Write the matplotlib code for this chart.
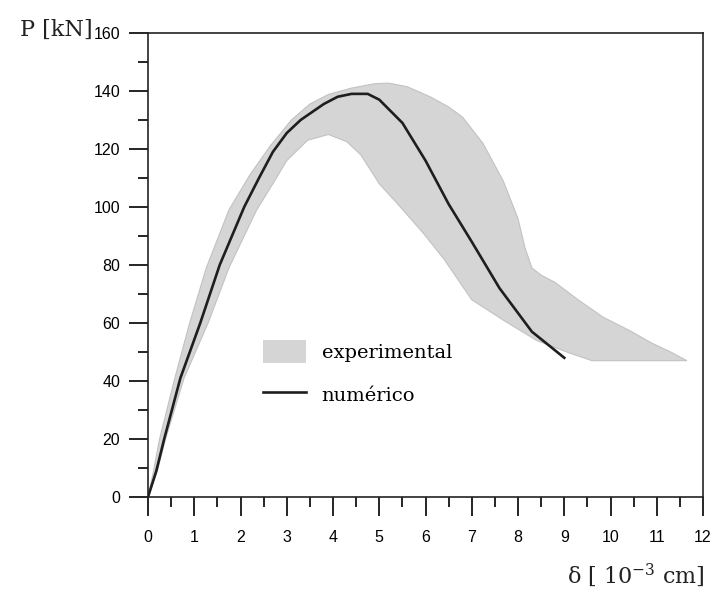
import matplotlib
matplotlib.use("Agg")
import matplotlib.pyplot as plt
import numpy as np
from matplotlib.patches import Patch
from matplotlib.lines import Line2D

# numerical curve (delta in 10^-3 cm, P in kN)
num_x = [0, 0.18, 0.35, 0.7, 1.13, 1.55, 2.08, 2.4, 2.7, 3.0, 3.3, 3.8, 4.1, 4.4,
         4.75, 5.0, 5.5, 6.0, 6.5, 7.0, 7.6, 8.3, 9.0]
num_y = [0, 9, 20, 41, 60, 80, 100, 110, 119, 125.5, 130, 135.5, 138, 139,
         139, 137, 129, 116, 101, 88, 72, 57, 48]

# experimental band: upper/left envelope and lower/right envelope
up_x = [0, 0.12, 0.25, 0.58, 0.9, 1.26, 1.75, 2.2, 2.64, 3.1, 3.5, 3.9, 4.4, 4.9,
        5.2, 5.6, 6.1, 6.5, 6.8, 7.24, 7.68, 8.0, 8.15, 8.3, 8.5, 8.8, 9.3, 9.84,
        10.4, 10.9, 11.3, 11.65]
up_y = [0, 9, 20, 41, 60, 79, 99, 111, 121, 130, 135.5, 138.8, 141, 142.5,
        142.7, 141.5, 138, 134.5, 131, 122, 109, 96, 86, 79, 76.5, 74, 68, 62,
        57.5, 53, 50, 47]
lo_x = [0, 0.2, 0.38, 0.78, 1.3, 1.75, 2.35, 2.7, 3.0, 3.45, 3.9, 4.3, 4.6, 5.0,
        5.4, 5.95, 6.4, 6.7, 7.0, 7.68, 8.4, 9.12, 9.6, 11.65]
lo_y = [0, 9, 20, 41, 60, 79, 99, 108, 116, 123, 125, 122.5, 118, 108,
        101, 91, 82, 75, 68, 61, 54, 49.6, 47, 47]

x_ticks = np.arange(0, 13, 1)
y_ticks = np.arange(0, 161, 20)

band_color = "#d5d5d5"
line_color = "#1e1e1e"

fig = plt.figure(figsize=(7.14, 5.92), dpi=100)
ax = fig.add_axes([0.2073, 0.1605, 0.7773, 0.7838])

band_px = np.concatenate([up_x, lo_x[::-1]])
band_py = np.concatenate([up_y, lo_y[::-1]])
ax.fill(band_px, band_py, facecolor=band_color, edgecolor="#c2c2c2", lw=0.8, zorder=1)
ax.plot(num_x, num_y, color=line_color, lw=1.9, zorder=2)

ax.set_xlim(0, 12)
ax.set_ylim(0, 160)
ax.set_xticks(x_ticks)
ax.set_xticks(np.arange(0, 12.01, 0.5), minor=True)
ax.set_yticks(y_ticks)
ax.set_yticks(np.arange(0, 161, 10), minor=True)
ax.tick_params(which="major", direction="out", length=14, width=1.2, labelsize=11.5)
ax.tick_params(which="minor", direction="out", length=7.5, width=1.2)
ax.tick_params(axis="x", which="major", pad=10)
ax.tick_params(axis="y", which="major", pad=6)
for lab in ax.get_xticklabels() + ax.get_yticklabels():
    lab.set_fontfamily("Liberation Sans")
for s in ax.spines.values():
    s.set_linewidth(1.2)
    s.set_color("#222222")

plt.rcParams["mathtext.fontset"] = "custom"
plt.rcParams["mathtext.rm"] = "DejaVu Serif"
ax.text(-0.099, 1.006, "P [kN]", transform=ax.transAxes, ha="right", va="center",
        fontsize=16, family="DejaVu Serif", color="#222222")
ax.text(1.004, -0.168, r"$\mathregular{\delta}$ [ 10$^{\mathregular{-3}}$ cm]",
        transform=ax.transAxes, ha="right", va="center",
        fontsize=16, family="DejaVu Serif", color="#222222")

handles = [Patch(facecolor=band_color, edgecolor="none"),
           Line2D([], [], color=line_color, lw=1.9)]
ax.legend(handles, ["experimental", "numérico"], loc="upper left",
          bbox_to_anchor=(0.19, 0.36), frameon=False, borderpad=0,
          handlelength=2.2, handleheight=1.5, handletextpad=0.8, labelspacing=1.0,
          prop={"family": "DejaVu Serif", "size": 14})

fig.savefig("out.png", dpi=100)
